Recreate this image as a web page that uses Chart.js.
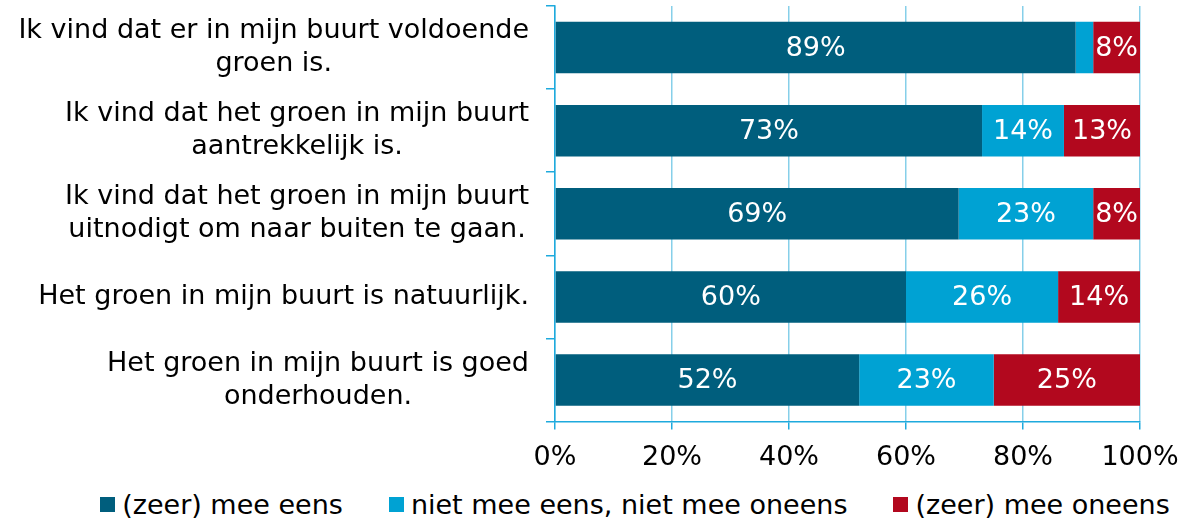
<!DOCTYPE html>
<html>
<head>
<meta charset="utf-8">
<script src="https://cdn.jsdelivr.net/npm/chart.js@4/dist/chart.umd.min.js"></script>
<style>
  html, body { margin: 0; padding: 0; background: #fff; }
  #wrap { width: 1198px; height: 490px; position: relative; }
  #legend {
    width: 1198px; height: 29px; box-sizing: border-box;
    display: flex; justify-content: center; align-items: center;
    padding-left: 72px;
    font: 27px "DejaVu Sans", sans-serif; color: #000;
  }
  #legend .item { display: flex; align-items: center; margin: 0 23px; white-space: nowrap; }
  #legend .box { width: 15px; height: 15px; margin-right: 7px; }
</style>
</head>
<body>
<div id="wrap"><canvas id="chartGroen"></canvas></div>
<div id="legend"></div>
<script>
// data
const categories = [
  ["Ik vind dat er in mijn buurt voldoende", "groen is."],
  ["Ik vind dat het groen in mijn buurt", "aantrekkelijk is."],
  ["Ik vind dat het groen in mijn buurt", "uitnodigt om naar buiten te gaan."],
  ["Het groen in mijn buurt is natuurlijk."],
  ["Het groen in mijn buurt is goed", "onderhouden."]
];
const seriesNames = ["(zeer) mee eens", "niet mee eens, niet mee oneens", "(zeer) mee oneens"];
const meeEens = [89, 73, 69, 60, 52];
const neutraal = [3, 14, 23, 26, 23];
const meeOneens = [8, 13, 8, 14, 25];
const xTicks = [0, 20, 40, 60, 80, 100];

const colors = ["#005e7d", "#00a2d3", "#b2081e"];
const axisColor = "#1eaadd";
const gridColor = "#86cfe9";
const font = '"DejaVu Sans", sans-serif';

// y labels: block right aligned, lines centered inside block
const yLabels = {
  id: "yLabels",
  afterDraw(chart) {
    const y = chart.scales.y;
    const ctx = chart.ctx;
    ctx.save();
    ctx.font = "27px " + font;
    ctx.fillStyle = "#000";
    ctx.textAlign = "center";
    ctx.textBaseline = "middle";
    const right = y.right - 26;
    categories.forEach((lines, i) => {
      const w = Math.max(...lines.map(l => ctx.measureText(l).width));
      const cx = right - w / 2;
      const cy = y.getPixelForValue(i);
      lines.forEach((l, j) => {
        ctx.fillText(l, cx, cy + (j - (lines.length - 1) / 2) * 33);
      });
    });
    ctx.restore();
  }
};

// percentages inside the bars
const barValues = {
  id: "barValues",
  afterDatasetsDraw(chart) {
    const ctx = chart.ctx;
    ctx.save();
    ctx.font = "27px " + font;
    ctx.fillStyle = "#fff";
    ctx.textAlign = "center";
    ctx.textBaseline = "middle";
    chart.data.datasets.forEach((ds, d) => {
      chart.getDatasetMeta(d).data.forEach((bar, i) => {
        const v = ds.data[i];
        if (v < 5) return;
        const p = bar.getCenterPoint();
        ctx.fillText(v + "%", p.x, p.y + 1);
      });
    });
    ctx.restore();
  }
};

const ctx = document.getElementById("chartGroen");
new Chart(ctx, {
  type: "bar",
  data: {
    labels: categories,
    datasets: [
      { label: seriesNames[0], data: meeEens, backgroundColor: colors[0] },
      { label: seriesNames[1], data: neutraal, backgroundColor: colors[1] },
      { label: seriesNames[2], data: meeOneens, backgroundColor: colors[2] }
    ]
  },
  options: {
    indexAxis: "y",
    responsive: true,
    maintainAspectRatio: false,
    animation: false,
    datasets: { bar: { barPercentage: 0.62, categoryPercentage: 1 } },
    layout: { padding: { top: 6, right: 58, bottom: 4, left: 0 } },
    plugins: { legend: { display: false }, tooltip: { enabled: false } },
    scales: {
      x: {
        stacked: true,
        min: 0,
        max: 100,
        afterBuildTicks: scale => { scale.ticks = xTicks.map(v => ({ value: v })); },
        ticks: { callback: v => v + "%", color: "#000", font: { family: font, size: 27 }, padding: 12, maxRotation: 0 },
        grid: { color: gridColor, lineWidth: 1.5, tickLength: 8, tickColor: axisColor },
        border: { color: axisColor, width: 1.5 }
      },
      y: {
        stacked: true,
        afterFit: scale => { scale.width = 555; },
        ticks: { display: false },
        grid: { drawOnChartArea: false, offset: true, tickLength: 9, color: axisColor, lineWidth: 1.5 },
        border: { color: axisColor, width: 1.5 }
      }
    }
  },
  plugins: [yLabels, barValues]
});

// html legend
const legend = document.getElementById("legend");
seriesNames.forEach((name, i) => {
  const item = document.createElement("div");
  item.className = "item";
  const box = document.createElement("span");
  box.className = "box";
  box.style.background = colors[i];
  item.appendChild(box);
  item.appendChild(document.createTextNode(name));
  legend.appendChild(item);
});
</script>
</body>
</html>
